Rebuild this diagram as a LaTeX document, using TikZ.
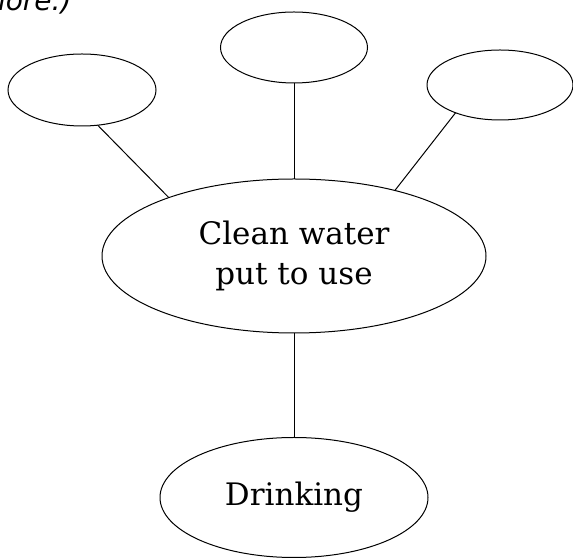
\documentclass[tikz,border=0pt]{standalone}
\usepackage{fontspec}
\setmainfont{DejaVu Serif}
\setsansfont{DejaVu Sans}
\usetikzlibrary{shapes.geometric}

\begin{document}
\begin{tikzpicture}[x=1pt,y=1pt,
    bubble/.style={draw,ellipse,line width=1pt,inner sep=0pt,outer sep=0pt,
        font=\fontsize{31}{40}\selectfont,align=center},
    link/.style={line width=1pt}]
    \clip (0,0) rectangle (573,559);

    \node[anchor=base east,font=\fontsize{28}{30}\selectfont\sffamily\itshape] (T) at (75,548) {more.)};

    \node[bubble,minimum width=148,minimum height=72] (L) at (82,469) {};
    \node[bubble,minimum width=147,minimum height=71] (M) at (294,511.5) {};
    \node[bubble,minimum width=146,minimum height=70] (R) at (500,474) {};
    \node[bubble,minimum width=384,minimum height=154] (C) at (294,303) {Clean water\\put to use};
    \node[bubble,minimum width=268,minimum height=120] (D) at (294,61.5) {Drinking};

    \draw[link] (L.-66) -- (C.155);
    \draw[link] (M) -- (C);
    \draw[link] (R.212) -- (C.33);
    \draw[link] (C) -- (D);
\end{tikzpicture}
\end{document}
